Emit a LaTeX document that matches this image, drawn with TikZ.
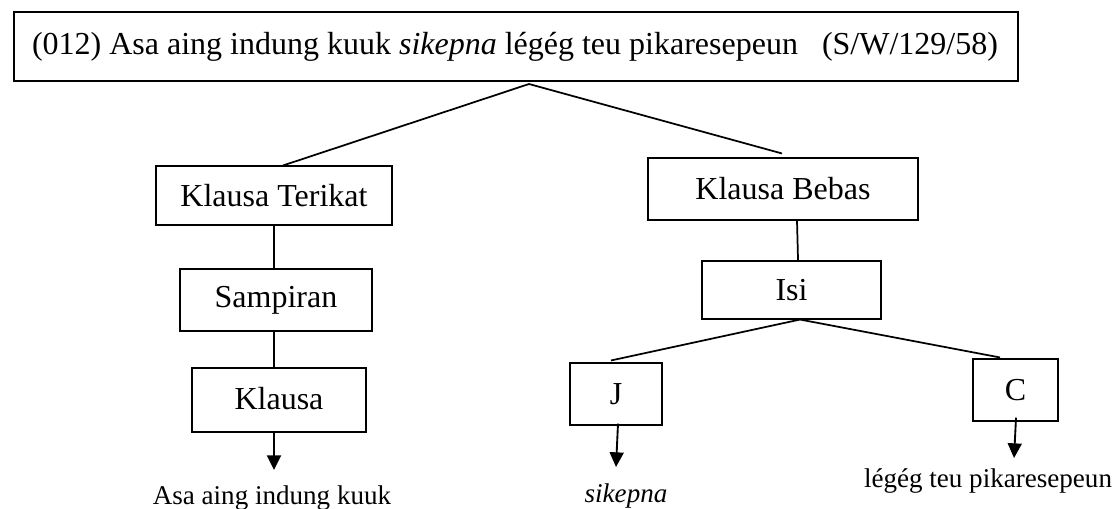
\documentclass[tikz,border=0pt]{standalone}
\usepackage{fontspec}
\setmainfont{Liberation Serif}
\usetikzlibrary{arrows.meta}
\begin{document}
\begin{tikzpicture}[x=0.75pt,y=-0.75pt,
  box/.style={draw, line width=0.8pt, inner sep=0pt, font=\fontsize{24}{28}\selectfont},
  conn/.style={line width=1.3pt},
  arr/.style={line width=1.4pt, -{Triangle[width=10.5pt,length=11pt]}},
  leaf/.style={anchor=base, inner sep=0pt, font=\fontsize{20.3}{24}\selectfont}]
\useasboundingbox (0,0) rectangle (1116,508);
\node[box, minimum width=753pt, minimum height=51.75pt] (top) at (516,46.5)
  {\raisebox{2.5pt}{\makebox[726pt][l]{(012) Asa aing indung kuuk \textit{sikepna} légég teu pikaresepeun\hspace{18pt}(S/W/129/58)}}};
\node[box, minimum width=177pt, minimum height=44.25pt] (kt) at (274,195.5) {Klausa Terikat};
\node[box, minimum width=144pt, minimum height=46.5pt] (samp) at (276,300) {Sampiran};
\node[box, minimum width=130.5pt, minimum height=48pt] (kl) at (279,400) {\raisebox{2pt}{Klausa}};
\node[box, minimum width=202.5pt, minimum height=46.5pt] (kb) at (783,189) {Klausa Bebas};
\node[box, minimum width=134.25pt, minimum height=43.5pt] (isi) at (791.5,290) {Isi};
\node[box, minimum width=69pt, minimum height=46.5pt] (j) at (616,394) {J};
\node[box, minimum width=63.75pt, minimum height=46.5pt] (c) at (1015.5,390) {C};
\node[leaf] (l1) at (272,504) {Asa aing indung kuuk};
\node[leaf] (l2) at (626,502) {\textit{sikepna}};
\node[leaf] (l3) at (988,487) {légég teu pikaresepeun};
\coordinate (apex) at (529,84);
\coordinate (t1) at (274,470);
\coordinate (tj) at (616,467);
\coordinate (tc) at (1014,458);
\draw[conn] (apex) -- ([xshift=6.75pt]kt.north);
\draw[conn] (apex) -- ([xshift=-0.75pt,yshift=3pt]kb.north);
\draw[conn] (kt.south) -- (kt.south |- samp.north);
\draw[conn] (kt.south |- samp.south) -- (kt.south |- kl.north);
\draw[arr] (kt.south |- kl.south) -- (t1);
\draw[conn] ([xshift=10.5pt]kb.south) -- ([xshift=4.9pt]isi.north);
\draw[conn] ([xshift=6.4pt]isi.south) -- ([xshift=-3.75pt,yshift=1.5pt]j.north);
\draw[conn] ([xshift=6.4pt]isi.south) -- ([xshift=-11.6pt,yshift=0.75pt]c.north);
\draw[arr] ([xshift=1.5pt,yshift=1.5pt]j.south) -- (tj);
\draw[arr] ([xshift=0.4pt,yshift=3pt]c.south) -- (tc);
\end{tikzpicture}
\end{document}
